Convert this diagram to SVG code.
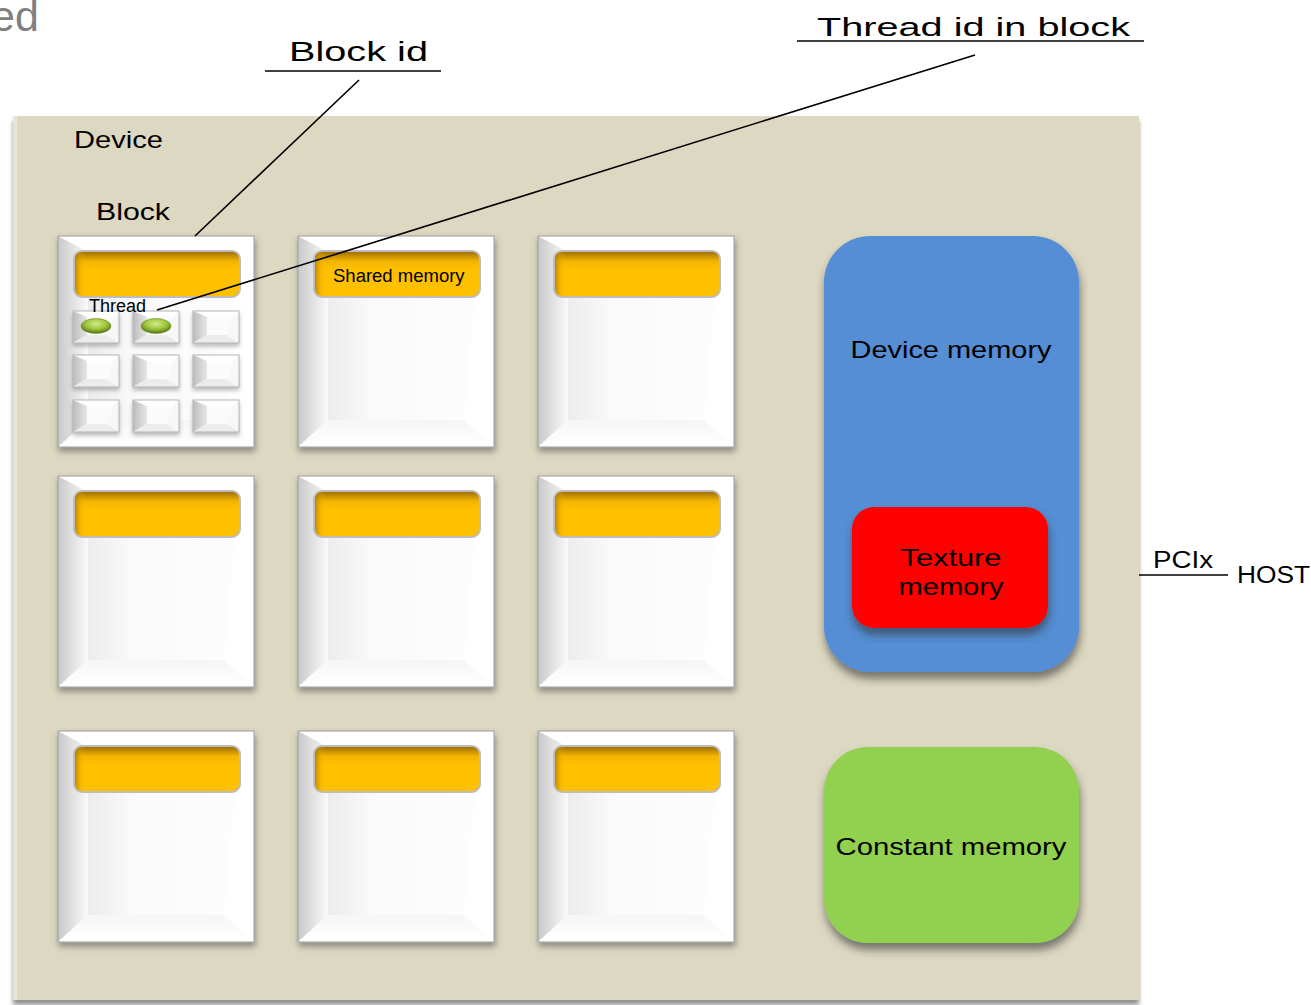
<svg xmlns="http://www.w3.org/2000/svg" width="1311" height="1005" viewBox="0 0 1311 1005">
  <style>
    .lbl { font-family: "Liberation Sans", Arial, sans-serif; fill: #000; }
    .conn { stroke: #000; stroke-width: 1.6; fill: none; }
    .bar { fill: url(#barGrad); stroke: #BDBDBD; stroke-width: 2; }
  </style>
  <defs>
    <filter id="shadow" x="-10%" y="-10%" width="125%" height="130%">
      <feDropShadow dx="1" dy="4" stdDeviation="3" flood-color="#555" flood-opacity="0.6"/>
    </filter>
    <filter id="keyShadow" x="-20%" y="-20%" width="150%" height="160%">
      <feDropShadow dx="0" dy="3" stdDeviation="2" flood-color="#777" flood-opacity="0.5"/>
    </filter>
    <filter id="memShadow" x="-10%" y="-10%" width="125%" height="130%">
      <feDropShadow dx="1" dy="7" stdDeviation="4" flood-color="#333" flood-opacity="0.6"/>
    </filter>
    <filter id="devShadow" x="-5%" y="-5%" width="110%" height="110%">
      <feDropShadow dx="0" dy="5" stdDeviation="2" flood-color="#777" flood-opacity="0.8"/>
    </filter>
    <linearGradient id="barGrad" x1="0" y1="0" x2="0" y2="1">
      <stop offset="0" stop-color="#9A6A00"/>
      <stop offset="0.22" stop-color="#F2B400"/>
      <stop offset="0.4" stop-color="#FFC000"/>
      <stop offset="1" stop-color="#FFC000"/>
    </linearGradient>
    <linearGradient id="barSide" x1="0" y1="0" x2="1" y2="0">
      <stop offset="0" stop-color="#A07000" stop-opacity="0.7"/>
      <stop offset="0.06" stop-color="#FFC000" stop-opacity="0"/>
      <stop offset="1" stop-color="#FFC000" stop-opacity="0"/>
    </linearGradient>
    <linearGradient id="leftBevel" x1="0" y1="0" x2="1" y2="0">
      <stop offset="0" stop-color="#C9C9C9"/>
      <stop offset="1" stop-color="#FAFAFA"/>
    </linearGradient>
    <linearGradient id="keyLeft" x1="0" y1="0" x2="1" y2="0">
      <stop offset="0" stop-color="#BDBDBD"/>
      <stop offset="1" stop-color="#E6E6E6"/>
    </linearGradient>
    <linearGradient id="bottomBevel" x1="0" y1="0" x2="0" y2="1">
      <stop offset="0" stop-color="#F6F6F6"/>
      <stop offset="1" stop-color="#FFFFFF"/>
    </linearGradient>
    <linearGradient id="faceGrad" x1="0" y1="0" x2="1" y2="0">
      <stop offset="0" stop-color="#ECECEC"/>
      <stop offset="0.3" stop-color="#FAFAFA"/>
      <stop offset="1" stop-color="#FDFDFD"/>
    </linearGradient>
    <radialGradient id="led" cx="0.5" cy="0.35" r="0.6">
      <stop offset="0" stop-color="#D4EC8A"/>
      <stop offset="0.6" stop-color="#9CC43A"/>
      <stop offset="1" stop-color="#5E7E1A"/>
    </radialGradient>

    <!-- beveled white tile used for every block -->
    <g id="blockTile">
      <rect x="0" y="0" width="196" height="211" fill="#FFFFFF"/>
      <polygon points="0,0 30,16 30,184 0,211" fill="url(#leftBevel)"/>
      <polygon points="0,211 30,184 166,184 196,211" fill="url(#bottomBevel)"/>
      <polygon points="30,16 181,16 166,184 30,184" fill="url(#faceGrad)"/>
      <rect x="0" y="0" width="196" height="211" fill="none" stroke="#A8A8A8" stroke-width="1.2"/>
    </g>

    <!-- small beveled key used for a thread -->
    <g id="threadKey" filter="url(#keyShadow)">
      <rect x="0" y="0" width="46" height="32" fill="#FFFFFF"/>
      <polygon points="0,0 14,6 14,24 0,32" fill="url(#keyLeft)"/>
      <polygon points="0,32 14,24 34,24 46,32" fill="#ECECEC"/>
      <polygon points="46,0 46,32 34,24 40,6" fill="#F7F7F7"/>
      <polygon points="14,6 40,6 34,24 14,24" fill="#FBFBFB"/>
      <rect x="0" y="0" width="46" height="32" fill="none" stroke="#B5B5B5" stroke-width="1"/>
    </g>

    <!-- shared memory bar sitting inside a block -->
    <g id="sharedBar">
      <rect x="0" y="0" width="166" height="46" rx="8" class="bar"/>
      <rect x="1" y="1" width="164" height="44" rx="7" fill="url(#barSide)"/>
    </g>
  </defs>

  <!-- partially visible heading -->
  <text class="lbl" x="-9" y="31" font-size="43" style="fill:#808080">ed</text>

  <!-- device background -->
  <g id="device">
    <rect x="13" y="116" width="1126" height="884" fill="#DDD8C2" filter="url(#devShadow)"/>
    <rect x="13" y="116" width="4" height="884" fill="#E8E5D8"/>
    <text class="lbl" x="74" y="148" font-size="24" textLength="89" lengthAdjust="spacingAndGlyphs">Device</text>
    <text class="lbl" x="96" y="220" font-size="24" textLength="74" lengthAdjust="spacingAndGlyphs">Block</text>
  </g>

  <!-- blocks: 3 x 3 grid -->
  <g id="block-0-0">
    <use href="#blockTile" x="58" y="236" filter="url(#shadow)"/>
    <use href="#sharedBar" x="74" y="251"/>
    <use href="#threadKey" x="73" y="311"/>
    <use href="#threadKey" x="133" y="311"/>
    <use href="#threadKey" x="193" y="311"/>
    <use href="#threadKey" x="73" y="355"/>
    <use href="#threadKey" x="133" y="355"/>
    <use href="#threadKey" x="193" y="355"/>
    <use href="#threadKey" x="73" y="400"/>
    <use href="#threadKey" x="133" y="400"/>
    <use href="#threadKey" x="193" y="400"/>
    <ellipse cx="96" cy="326" rx="15" ry="7.5" fill="url(#led)" stroke="#6E8A2A" stroke-width="0.6"/>
    <ellipse cx="156" cy="326" rx="15" ry="7.5" fill="url(#led)" stroke="#6E8A2A" stroke-width="0.6"/>
    <text class="lbl" x="89" y="312" font-size="18">Thread</text>
  </g>

  <g id="block-0-1">
    <use href="#blockTile" x="298" y="236" filter="url(#shadow)"/>
    <use href="#sharedBar" x="314" y="251"/>
    <text class="lbl" x="333" y="282" font-size="18.5">Shared memory</text>
  </g>
  <g id="block-0-2">
    <use href="#blockTile" x="538" y="236" filter="url(#shadow)"/>
    <use href="#sharedBar" x="554" y="251"/>
  </g>

  <g id="block-1-0">
    <use href="#blockTile" x="58" y="476" filter="url(#shadow)"/>
    <use href="#sharedBar" x="74" y="491"/>
  </g>
  <g id="block-1-1">
    <use href="#blockTile" x="298" y="476" filter="url(#shadow)"/>
    <use href="#sharedBar" x="314" y="491"/>
  </g>
  <g id="block-1-2">
    <use href="#blockTile" x="538" y="476" filter="url(#shadow)"/>
    <use href="#sharedBar" x="554" y="491"/>
  </g>

  <g id="block-2-0">
    <use href="#blockTile" x="58" y="731" filter="url(#shadow)"/>
    <use href="#sharedBar" x="74" y="746"/>
  </g>
  <g id="block-2-1">
    <use href="#blockTile" x="298" y="731" filter="url(#shadow)"/>
    <use href="#sharedBar" x="314" y="746"/>
  </g>
  <g id="block-2-2">
    <use href="#blockTile" x="538" y="731" filter="url(#shadow)"/>
    <use href="#sharedBar" x="554" y="746"/>
  </g>

  <!-- memories -->
  <g id="device-memory">
    <rect x="824" y="236" width="255" height="436" rx="46" fill="#558ED5" filter="url(#memShadow)"/>
    <text class="lbl" x="951" y="358" font-size="24" text-anchor="middle" textLength="201" lengthAdjust="spacingAndGlyphs">Device memory</text>
  </g>
  <g id="texture-memory">
    <rect x="852" y="507" width="196" height="121" rx="22" fill="#FF0000" filter="url(#memShadow)"/>
    <text class="lbl" x="951" y="566" font-size="24" text-anchor="middle" textLength="101" lengthAdjust="spacingAndGlyphs">Texture</text>
    <text class="lbl" x="951" y="595" font-size="24" text-anchor="middle" textLength="105" lengthAdjust="spacingAndGlyphs">memory</text>
  </g>
  <g id="constant-memory">
    <rect x="824" y="747" width="255" height="196" rx="44" fill="#92D050" filter="url(#memShadow)"/>
    <text class="lbl" x="951" y="855" font-size="24" text-anchor="middle" textLength="231" lengthAdjust="spacingAndGlyphs">Constant memory</text>
  </g>

  <!-- callout labels -->
  <g id="label-block-id">
    <text class="lbl" x="289" y="61" font-size="27" textLength="139" lengthAdjust="spacingAndGlyphs">Block id</text>
  </g>
  <g id="label-thread-id">
    <text class="lbl" x="817" y="36" font-size="26" textLength="313" lengthAdjust="spacingAndGlyphs">Thread id in block</text>
  </g>
  <g id="host">
    <text class="lbl" x="1153" y="568" font-size="23" textLength="60" lengthAdjust="spacingAndGlyphs">PCIx</text>
    <text class="lbl" x="1237" y="583" font-size="23" textLength="73" lengthAdjust="spacingAndGlyphs">HOST</text>
  </g>

  <!-- connectors -->
  <g id="connectors">
    <line class="conn" x1="265" y1="71" x2="441" y2="71"/>
    <line class="conn" x1="359" y1="80" x2="195" y2="236"/>
    <line class="conn" x1="797" y1="41" x2="1144" y2="41"/>
    <line class="conn" x1="975" y1="55" x2="157" y2="310"/>
    <line class="conn" x1="1139" y1="575" x2="1228" y2="575"/>
  </g>
</svg>
